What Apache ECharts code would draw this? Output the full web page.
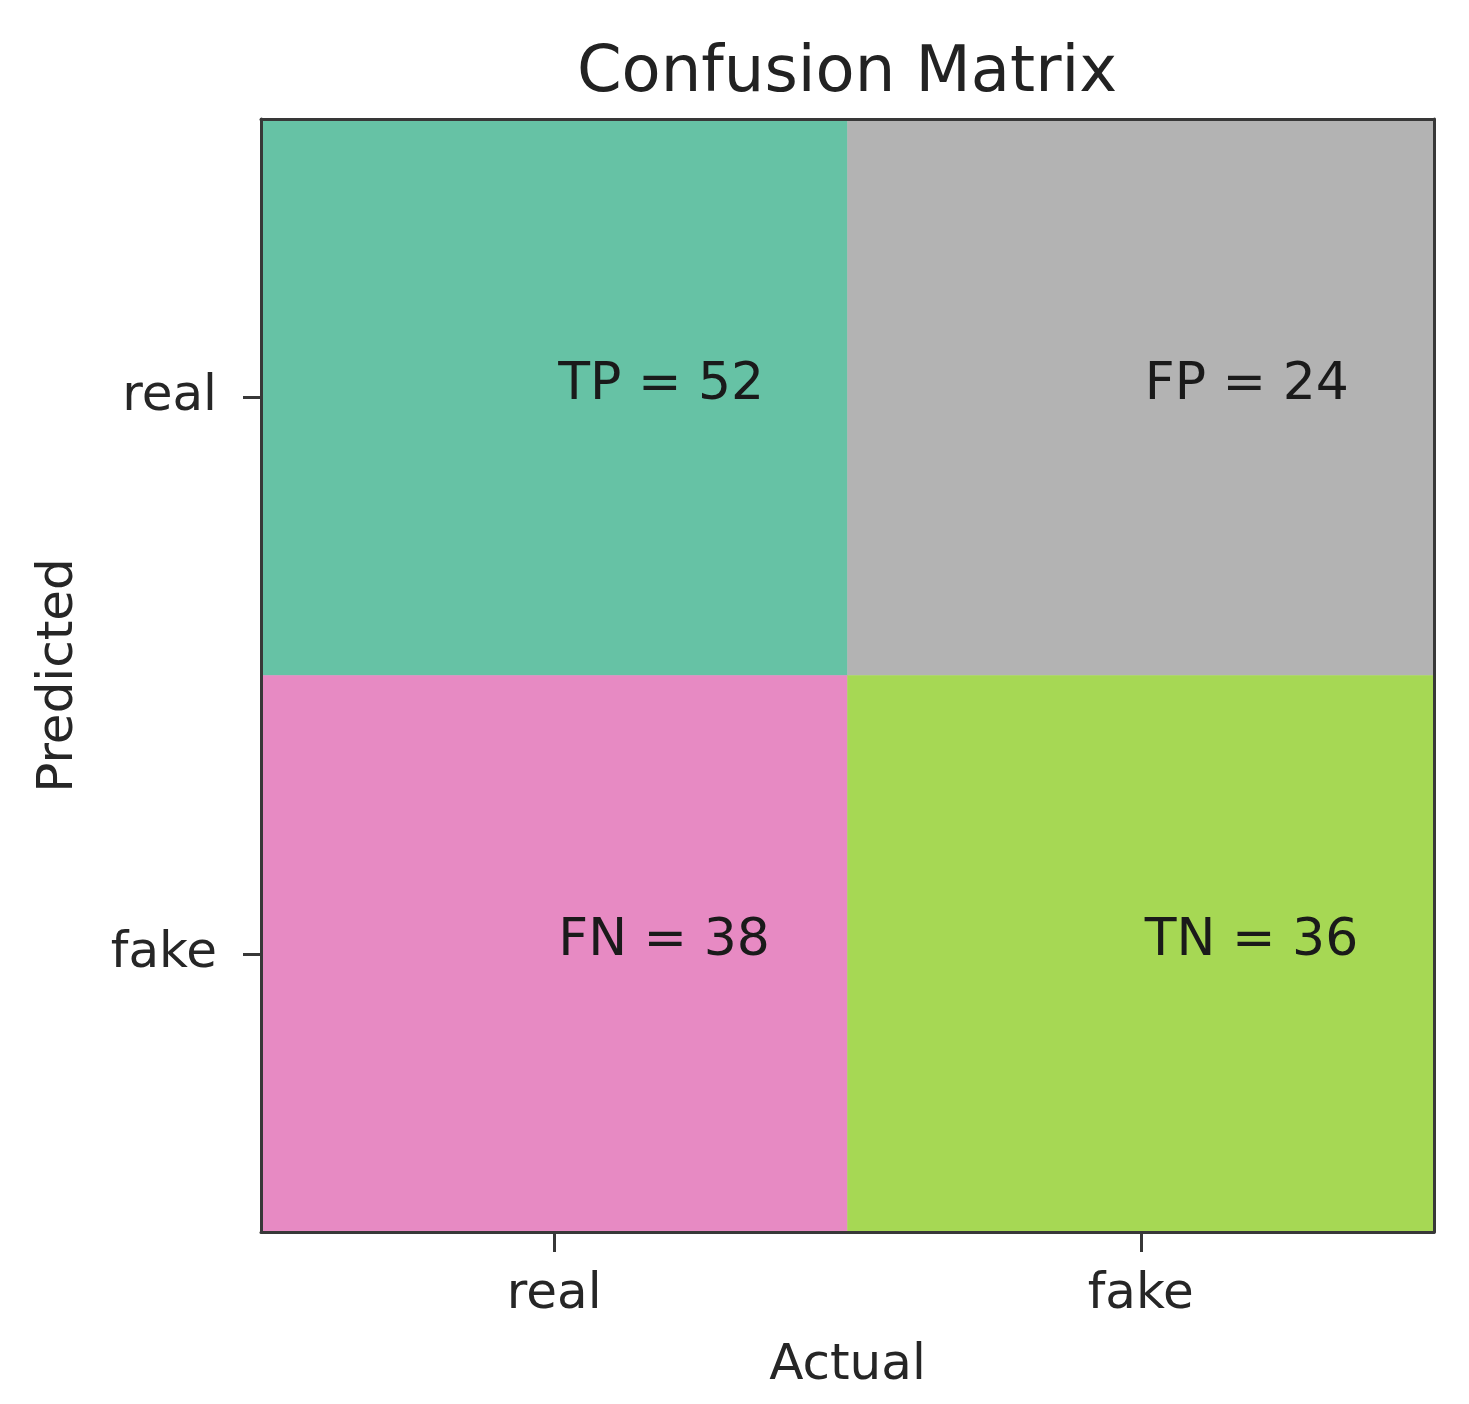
<!DOCTYPE html>
<html>
<head>
<meta charset="utf-8">
<title>Confusion Matrix</title>
<script src="https://cdn.jsdelivr.net/npm/echarts@6/dist/echarts.min.js"></script>
<style>
  html, body { margin: 0; padding: 0; background: #fff; }
  #main { width: 1469px; height: 1404px; }
</style>
</head>
<body>
<div id="main"></div>
<script>
  // axis categories
  var actualLabels = ['real', 'fake'];
  var predictedLabels = ['real', 'fake'];
  // cell names and counts, row = predicted, col = actual
  var cellNames = [['TP', 'FP'], ['FN', 'TN']];
  var counts = [[52, 24], [38, 36]];
  var cellColors = [['#66c2a5', '#b3b3b3'], ['#e78ac3', '#a6d854']];

  var font = 'DejaVu Sans';
  var textColor = '#262626';
  var lineColor = '#383838';

  var data = [];
  counts.forEach(function (row, i) {
    row.forEach(function (v, j) {
      data.push({
        value: [j, i, v],
        name: cellNames[i][j],
        itemStyle: { color: cellColors[i][j] }
      });
    });
  });

  var myChart = echarts.init(document.getElementById('main'));

  var option = {
    animation: false,
    title: {
      text: 'Confusion Matrix',
      left: 842,
      top: 37,
      textAlign: 'center',
      textStyle: { fontFamily: font, fontSize: 64, fontWeight: 'normal', color: '#222' }
    },
    grid: {
      left: 261,
      top: 119,
      right: 35,
      bottom: 172
    },
    xAxis: [{
      type: 'category',
      data: actualLabels,
      position: 'bottom',
      z: 5,
      name: 'Actual',
      nameLocation: 'middle',
      nameGap: 109,
      nameTextStyle: { fontFamily: font, fontSize: 50, color: textColor },
      axisLine: { show: true, lineStyle: { color: lineColor, width: 3 } },
      axisTick: { show: true, alignWithLabel: true, length: 20, lineStyle: { color: lineColor, width: 3 } },
      axisLabel: { fontFamily: font, fontSize: 50, color: textColor, margin: 38 },
      splitLine: { show: false }
    }, {
      type: 'category',
      data: actualLabels,
      position: 'top',
      z: 5,
      axisLine: { show: true, lineStyle: { color: lineColor, width: 3 } },
      axisTick: { show: false },
      axisLabel: { show: false },
      splitLine: { show: false }
    }],
    yAxis: [{
      type: 'category',
      data: predictedLabels,
      inverse: true,
      position: 'left',
      z: 5,
      name: 'Predicted',
      nameLocation: 'middle',
      nameGap: 177,
      nameTextStyle: { fontFamily: font, fontSize: 50, color: textColor },
      axisLine: { show: true, lineStyle: { color: lineColor, width: 3 } },
      axisTick: { show: true, alignWithLabel: true, length: 18, lineStyle: { color: lineColor, width: 3 } },
      axisLabel: { fontFamily: font, fontSize: 50, color: textColor, margin: 44 },
      splitLine: { show: false }
    }, {
      type: 'category',
      data: predictedLabels,
      inverse: true,
      position: 'right',
      z: 5,
      axisLine: { show: true, lineStyle: { color: lineColor, width: 3 } },
      axisTick: { show: false },
      axisLabel: { show: false },
      splitLine: { show: false }
    }],
    series: [{
      type: 'heatmap',
      xAxisIndex: 0,
      yAxisIndex: 0,
      data: data,
      label: {
        show: true,
        position: ['50%', '50%'],
        align: 'left',
        verticalAlign: 'middle',
        offset: [4, -12],
        fontFamily: font,
        fontSize: 52,
        color: '#1a1a1a',
        formatter: function (p) {
          return p.name + ' = ' + p.value[2];
        }
      },
      emphasis: { disabled: true }
    }]
  };
  myChart.setOption(option);
</script>
</body>
</html>
